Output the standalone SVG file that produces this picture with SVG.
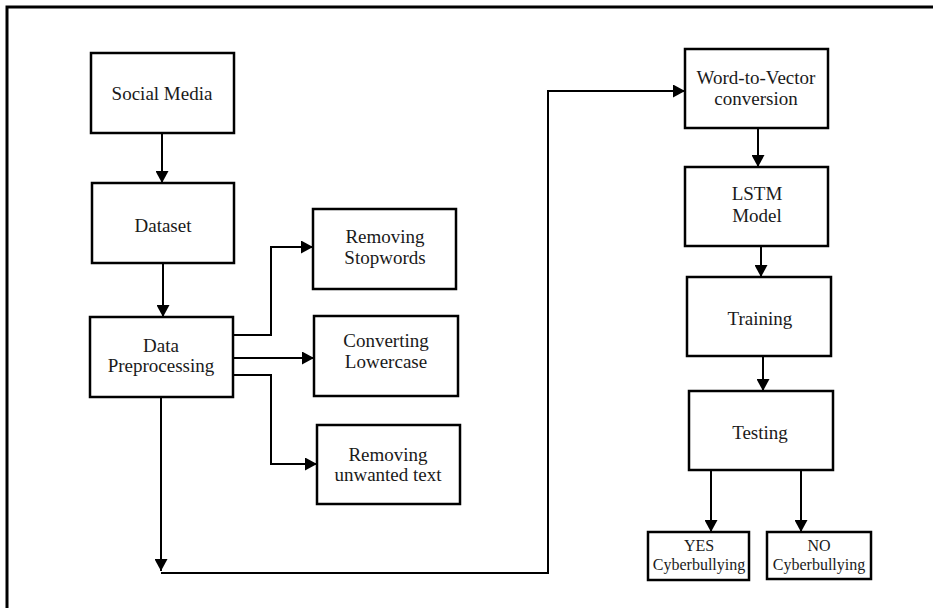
<svg xmlns="http://www.w3.org/2000/svg" width="933" height="608" viewBox="0 0 933 608">
<defs>
<style>
.box{fill:#fff;stroke:#000;stroke-width:2.5}
.t{font-family:'Liberation Serif','DejaVu Serif','Noto Serif','Times New Roman',Times,serif;font-size:19px;fill:#1a1a1a;text-anchor:middle}
.s{font-size:16px}
.c{fill:none;stroke:#000;stroke-width:2}
</style>
<marker id="ah" markerUnits="userSpaceOnUse" markerWidth="13" markerHeight="13" refX="12" refY="6.5" orient="auto">
<path d="M0,0 L12,6.5 L0,13 z" fill="#000"/>
</marker>
</defs>
<rect x="0" y="0" width="933" height="608" fill="#fff"/>
<path d="M7,640 L7,7 L940,7" fill="none" stroke="#000" stroke-width="3"/>

<g id="connectors">
<path class="c" d="M162,133 L162,183" marker-end="url(#ah)"/>
<path class="c" d="M163,263 L163,317" marker-end="url(#ah)"/>
<path class="c" d="M233,335 L271,335 L271,247 L313,247" marker-end="url(#ah)"/>
<path class="c" d="M233,358 L314,358" marker-end="url(#ah)"/>
<path class="c" d="M233,375 L271,375 L271,464 L317,464" marker-end="url(#ah)"/>
<path class="c" d="M161,397 L161,571" marker-end="url(#ah)"/>
<path class="c" d="M161,573 L548,573 L548,91 L685,91" marker-end="url(#ah)"/>
<path class="c" d="M758,128 L758,167" marker-end="url(#ah)"/>
<path class="c" d="M761,246 L761,277" marker-end="url(#ah)"/>
<path class="c" d="M763,356 L763,391" marker-end="url(#ah)"/>
<path class="c" d="M711,470 L711,532" marker-end="url(#ah)"/>
<path class="c" d="M801,470 L801,532" marker-end="url(#ah)"/>
</g>

<g id="social-media"><rect class="box" x="91" y="53" width="143" height="80"/><text class="t" x="162" y="100">Social Media</text></g>
<g id="dataset"><rect class="box" x="92" y="183" width="142" height="80"/><text class="t" x="163" y="232">Dataset</text></g>
<g id="data-preprocessing"><rect class="box" x="90" y="317" width="143" height="80"/><text class="t" x="161" y="352">Data</text><text class="t" x="161" y="372">Preprocessing</text></g>
<g id="removing-stopwords"><rect class="box" x="313" y="209" width="143" height="80"/><text class="t" x="385" y="243">Removing</text><text class="t" x="385" y="264">Stopwords</text></g>
<g id="converting-lowercase"><rect class="box" x="314" y="316" width="144" height="80"/><text class="t" x="386" y="347">Converting</text><text class="t" x="386" y="368">Lowercase</text></g>
<g id="removing-unwanted"><rect class="box" x="317" y="425" width="143" height="79"/><text class="t" x="388" y="461">Removing</text><text class="t" x="388" y="481">unwanted text</text></g>
<g id="word-to-vector"><rect class="box" x="685" y="49" width="143" height="79"/><text class="t" x="756" y="84">Word-to-Vector</text><text class="t" x="756" y="105">conversion</text></g>
<g id="lstm-model"><rect class="box" x="685" y="167" width="143" height="79"/><text class="t" x="757" y="200">LSTM</text><text class="t" x="757" y="222">Model</text></g>
<g id="training"><rect class="box" x="687" y="277" width="144" height="79"/><text class="t" x="760" y="325">Training</text></g>
<g id="testing"><rect class="box" x="689" y="391" width="144" height="79"/><text class="t" x="760" y="439">Testing</text></g>
<g id="yes-cyberbullying"><rect class="box" x="648" y="532" width="101" height="48" stroke-width="2"/><text class="t s" x="699" y="551">YES</text><text class="t s" x="699" y="570">Cyberbullying</text></g>
<g id="no-cyberbullying"><rect class="box" x="767" y="532" width="104" height="47" stroke-width="2"/><text class="t s" x="819" y="551">NO</text><text class="t s" x="819" y="570">Cyberbullying</text></g>
</svg>
